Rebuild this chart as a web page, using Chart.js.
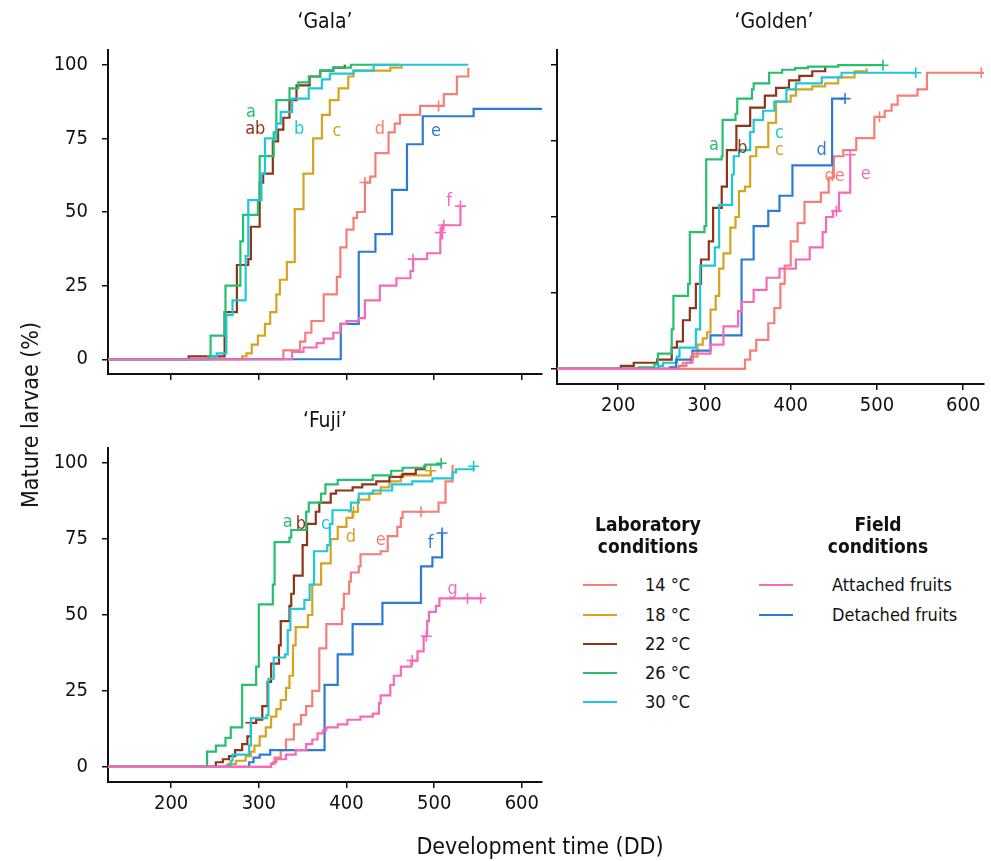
<!DOCTYPE html>
<html>
<head>
<meta charset="utf-8">
<script src="https://cdn.jsdelivr.net/npm/chart.js@4/dist/chart.umd.min.js"></script>
<style>
  html, body { margin: 0; padding: 0; background: #fff; }
  body { width: 991px; height: 861px; position: relative; overflow: hidden;
         font-family: 'DejaVu Sans Condensed', 'DejaVu Sans', sans-serif; color: #111; }
  canvas { position: absolute; }
  .txt { position: absolute; white-space: nowrap; }
  .ptitle { font-size: 21px; line-height: 24px; text-align: center; }
  .axtitle { font-size: 23px; line-height: 26px; }
  .lhead { font-size: 19px; line-height: 22px; font-weight: bold; text-align: center; width: 200px; }
  .litem { font-size: 18px; line-height: 22px; }
  .lline { position: absolute; height: 2px; width: 34px; }
</style>
</head>
<body>
<canvas id="gala" width="560" height="400" style="left:0;top:0;width:560px;height:400px"></canvas>
<canvas id="golden" width="451" height="430" style="left:540px;top:0;width:451px;height:430px"></canvas>
<canvas id="fuji" width="560" height="440" style="left:0;top:400px;width:560px;height:440px"></canvas>

<div class="txt ptitle" style="left:108px;width:434px;top:9px">‘Gala’</div>
<div class="txt ptitle" style="left:557px;width:434px;top:9px">‘Golden’</div>
<div class="txt ptitle" style="left:108px;width:434px;top:408px">‘Fuji’</div>
<div class="txt axtitle" style="left:340px;width:400px;top:833px;text-align:center">Development time (DD)</div>
<div class="txt axtitle" style="left:30px;top:415px;transform:translate(-50%,-50%) rotate(-90deg)">Mature larvae (%)</div>
<div id="legend"></div>

<script>
// ---- condition colours ----
const colors = {
  c14: '#F47F76', c18: '#D8A31F', c22: '#8E3419', c26: '#25BF6E',
  c30: '#1EC8D6', att: '#F66BB6', det: '#2C7BD5'
};

// ---- axis ticks ----
const xTickValues = [200, 300, 400, 500, 600];
const yTickValues = [0, 25, 50, 75, 100];

// ---- cumulative proportion of mature larvae: [degree-days, %] at each step ----
// 'Gala'
const gala14 = [[328,3],[347,6],[353,9],[360,13],[374,22],[389,28],[393,38],[400,44],[408,48],[412,50],[421,60],[427,62],[433,70],[448,77],[455,80],[461,83],[484,86],[511,90],[526,96],[539,99]];
const gala18 = [[281,1],[286,2],[292,5],[299,8],[307,12],[313,16],[320,22],[324,27],[332,33],[341,51],[351,63],[362,75],[372,83],[381,88],[391,92],[402,96],[408,98],[450,99],[463,100]];
const gala22 = [[220,1],[261,16],[275,32],[288,34],[291,45],[301,60],[305,63],[316,74],[322,78],[328,82],[335,88],[343,93],[358,96],[370,98],[385,99],[398,100]];
const gala26 = [[242,1],[245,8],[261,16],[262,25],[279,40],[282,49],[299,54],[301,69],[317,77],[320,88],[335,92],[345,94],[357,96],[370,98],[385,99],[405,100],[460,100]];
const gala30 = [[246,1],[252,2],[263,15],[270,20],[285,35],[288,54],[303,63],[307,75],[320,80],[325,84],[338,88.5],[357,92],[372,95],[381,97],[408,98],[431,100],[539,100]];
const galaAtt = [[338,2.5],[351,4],[366,5.5],[374,7],[385,9],[393,12],[400,13],[414,14],[421,20],[438,25],[457,27.5],[473,30],[476,34],[492,36],[507,41],[509,45.5],[530,52]];
const galaDet = [[393.5,12],[414,36.5],[433,42.5],[452,57.5],[469,73],[487,82.5],[545,85],[623,85]];
const galaCens14 = [[421,60],[505,86]];
const galaCensAtt = [[476,34],[507,43],[511,45.5],[530,52]];

// 'Golden'
const golden14 = [[347,3],[353,6],[360,9.5],[374,15],[381,20],[388,28],[393,34],[400,42],[408,48],[416,55],[435,58],[444,63],[450,70],[461,72],[476,76],[497,83],[509,85],[517,87],[524,90],[547,92],[558,97.5],[624,97.5]];
const golden18 = [[262,0.5],[270,1],[275,2],[284,4],[292,8],[298,10],[303,12],[307,19.5],[313,24],[317,33],[322,38],[330,46.5],[336,50],[340,58.5],[347,60],[353,70],[360,73],[374,81],[383,88],[400,90],[406,92],[425,93],[440,94],[455,96],[474,98],[488,99]];
const golden22 = [[203,1],[218,2],[245,3],[262,7],[268,9],[275,16],[283,20],[290,28],[296,36],[305,42],[310,53],[320,60],[326,72],[337,80],[353,86],[370,90],[383,92.5],[398,95],[410,96.5],[425,98],[440,99.5]];
const golden26 = [[224,0.5],[242,1.5],[246,5],[262,13],[264,24],[281,28],[283,45],[300,47],[302,69],[320,70],[321,82],[336,84],[338,89],[355,92],[357,94],[375,97.5],[390,98.5],[405,99],[420,99.5],[455,100],[507,100]];
const golden30 = [[246,1],[252,2],[268,4],[271,7],[290,13],[295,34],[312,40],[317,54],[332,64],[334,70],[340,72],[353,78],[357,82],[368,85],[381,88],[395,92],[406,94],[436,96],[459,97.5],[545,97.5]];
const goldenAtt = [[271,1],[279,2],[286,5],[307,8],[322,14],[339,19],[343,22],[357,26],[372,30],[387,33],[406,36],[422,40],[437,45],[441,50],[449,52],[456,58],[469,70.5]];
const goldenDet = [[260,0.5],[267,3],[286,6],[307,11],[343,36],[357,47],[374,52],[387,57],[402,67],[448,89],[463,89]];
const goldenCens14 = [[503,83],[621,97.5]];
const goldenCens18 = [[406,92]];
const goldenCens26 = [[507,100]];
const goldenCens30 = [[545,97.5]];
const goldenCensAtt = [[453,52],[469,70.5]];
const goldenCensDet = [[463,89]];

// 'Fuji'
const fuji14 = [[314,1],[318,3],[325,5.5],[331,9],[340,14],[348,17],[354,20],[361,25],[369,39],[377,47],[395,52],[397,57],[403,61],[405,64],[414,66],[416,70],[439,71],[447,76],[458,79],[462,82],[464,84],[505,87],[513,94],[521,99.5]];
const fuji18 = [[263,0.5],[265,1],[274,2],[285,3.5],[291,5],[295,7],[301,10],[308,13],[314,16.5],[320,19],[325,22],[331,26],[335,30],[339,40],[342,46],[356,50],[361,60],[371,67],[382,75],[390,79],[400,82],[407,84],[413,88],[426,90],[439,92],[449,94],[462,96],[496,97.5],[498,97.5]];
const fuji22 = [[251,1.5],[259,2.5],[266,3.5],[273,5.5],[281,7.5],[287,10],[291,14.5],[297,15.5],[304,20],[310,28],[314,34],[323,40],[325,48],[335,53],[337,57],[340,63],[350,73],[355,80],[365,84],[369,87],[382,90],[388,91],[407,92],[418,93],[434,94],[449,95.5],[464,96.5],[479,98],[489,99.5]];
const fuji26 = [[241,5],[251,7],[262,9.5],[268,13],[281,27],[297,33],[300,53.5],[316,60],[318,74],[335,75.5],[337,78],[354,84],[357,87],[371,90],[376,93],[390,94.5],[430,96],[451,97.5],[464,98.5],[490,99.5],[508,100]];
const fuji30 = [[266,0.5],[268,2],[270,4],[289,7],[291,16],[309,17],[311,29],[317,36],[330,37],[333,45],[336,52],[352,55],[358,60],[363,71],[378,73],[381,80],[384,84.5],[405,87],[414,90],[430,91],[452,93],[475,94],[498,95],[521,97],[525,98],[545,99]];
const fujiAtt = [[314,1],[316,1.5],[320,2.5],[331,4],[342,5.5],[354,7.5],[361,9],[367,11],[373,12],[377,13],[390,14],[401,15.5],[416,16.5],[430,17.5],[437,21],[439,23.5],[450,27],[454,30],[462,33],[474,35],[481,38],[488,43],[492,48],[494,51],[502,53],[506,55.5],[556,55.5]];
const fujiDet = [[289,1.5],[294,3],[301,4],[313,5.5],[375,27],[390,37],[407,47],[441,54],[485,66],[498,69],[509,77]];
const fujiCens14 = [[485,84]];
const fujiCens18 = [[408,84],[496,97.5]];
const fujiCens22 = [[291,14.5]];
const fujiCens26 = [[508,100]];
const fujiCens30 = [[545,99]];
const fujiCensAtt = [[475,35],[491,43],[538,55.5],[553,55.5]];
const fujiCensDet = [[509,77]];

// ---- significance letters: text, condition, anchor [DD, %] ----
const galaLetters = ['a','ab','b','c','d','e','f'];
const galaLetterKeys = ['c26','c22','c30','c18','c14','det','att'];
const galaLetterAt = [[291,84],[296,78],[346,78],[389,77.5],[438,78],[502,77.5],[517,53.5]];
const goldenLetters = ['a','b','c','c','d','de','e'];
const goldenLetterKeys = ['c26','c22','c30','c18','det','c14','att'];
const goldenLetterAt = [[311,73.5],[344,72.5],[387,77.5],[387,72],[436,72],[451,63.5],[487,64]];
const fujiLetters = ['a','b','c','d','e','f','g'];
const fujiLetterKeys = ['c26','c22','c30','c18','c14','det','att'];
const fujiLetterAt = [[333,80.5],[348,80],[376,80],[405,75.5],[439,74.5],[496,73.5],[521,58.5]];

// ---- legend ----
const labLabels = ['14 °C','18 °C','22 °C','26 °C','30 °C'];
const labKeys = ['c14','c18','c22','c26','c30'];
const fieldLabels = ['Attached fruits','Detached fruits'];
const fieldKeys = ['att','det'];

Chart.defaults.font.family = "'DejaVu Sans Condensed', 'DejaVu Sans', sans-serif";
Chart.defaults.color = '#111';

const toPts = arr => arr.map(([x, y]) => ({ x, y }));

const lettersPlugin = {
  id: 'groupLetters',
  afterDatasetsDraw(chart, args, opts) {
    const { ctx } = chart;
    const xs = chart.scales.x, ys = chart.scales.y;
    ctx.save();
    ctx.font = "18px 'DejaVu Sans Condensed', 'DejaVu Sans', sans-serif";
    ctx.textAlign = 'center';
    ctx.textBaseline = 'middle';
    opts.texts.forEach((t, i) => {
      ctx.fillStyle = colors[opts.keys[i]];
      ctx.fillText(t, xs.getPixelForValue(opts.at[i][0]), ys.getPixelForValue(opts.at[i][1]));
    });
    ctx.restore();
  }
};

function buildPanel(id, p) {
  const datasets = [];
  // drawing order: attached on top, then detached, then the laboratory temperatures
  const orderOf = { att: 0, det: 1, c30: 2, c26: 3, c22: 4, c18: 5, c14: 6 };
  p.series.forEach(s => {
    const pts = [{ x: p.xMin, y: 0 }].concat(toPts(s.data));
    datasets.push({
      data: pts, borderColor: colors[s.key], borderWidth: 2.2,
      stepped: true, pointRadius: 0, fill: false, order: orderOf[s.key] * 2 + 1
    });
    if (s.cens && s.cens.length) {
      datasets.push({
        data: toPts(s.cens), showLine: false, pointStyle: 'cross', pointRadius: 5.5,
        pointBorderWidth: 1.6, pointBorderColor: colors[s.key], pointBackgroundColor: colors[s.key],
        borderColor: colors[s.key], order: orderOf[s.key] * 2
      });
    }
  });

  const tickGrid = { drawOnChartArea: false, drawTicks: true, tickLength: 6, color: '#111', lineWidth: 1.5 };
  const border = { display: true, color: '#111', width: 2 };

  new Chart(document.getElementById(id), {
    type: 'line',
    data: { datasets },
    options: {
      responsive: false, animation: false, events: [],
      layout: { padding: p.padding },
      plugins: { legend: { display: false }, tooltip: { enabled: false }, groupLetters: p.letters },
      scales: {
        x: {
          type: 'linear', min: p.xMin, max: p.xMax,
          afterBuildTicks: s => { s.ticks = xTickValues.map(v => ({ value: v })); },
          afterFit: s => { s.height = p.xHeight; },
          grid: tickGrid, border,
          ticks: { display: p.xLabels, font: { size: 20 }, color: '#111', padding: 4, maxRotation: 0 }
        },
        y: {
          type: 'linear', min: -5, max: 105,
          afterBuildTicks: s => { s.ticks = yTickValues.map(v => ({ value: v })); },
          afterFit: s => { s.width = p.yWidth; },
          grid: tickGrid, border,
          ticks: { display: p.yLabels, font: { size: 20 }, color: '#111', padding: 14 }
        }
      }
    },
    plugins: [lettersPlugin]
  });
}

buildPanel('gala', {
  xMin: 128, xMax: 623, xLabels: false, yLabels: true,
  padding: { top: 50, right: 18, left: 0, bottom: 0 }, yWidth: 108, xHeight: 16,
  series: [
    { key: 'c14', data: gala14, cens: galaCens14 },
    { key: 'c18', data: gala18 },
    { key: 'c22', data: gala22 },
    { key: 'c26', data: gala26 },
    { key: 'c30', data: gala30 },
    { key: 'att', data: galaAtt, cens: galaCensAtt },
    { key: 'det', data: galaDet }
  ],
  letters: { texts: galaLetters, keys: galaLetterKeys, at: galaLetterAt }
});

buildPanel('golden', {
  xMin: 129, xMax: 624, xLabels: true, yLabels: false,
  padding: { top: 50, right: 0, left: 0, bottom: 0 }, yWidth: 17, xHeight: 46,
  series: [
    { key: 'c14', data: golden14, cens: goldenCens14 },
    { key: 'c18', data: golden18, cens: goldenCens18 },
    { key: 'c22', data: golden22 },
    { key: 'c26', data: golden26, cens: goldenCens26 },
    { key: 'c30', data: golden30, cens: goldenCens30 },
    { key: 'att', data: goldenAtt, cens: goldenCensAtt },
    { key: 'det', data: goldenDet, cens: goldenCensDet }
  ],
  letters: { texts: goldenLetters, keys: goldenLetterKeys, at: goldenLetterAt }
});

buildPanel('fuji', {
  xMin: 128, xMax: 623, xLabels: true, yLabels: true,
  padding: { top: 48, right: 18, left: 0, bottom: 0 }, yWidth: 108, xHeight: 58,
  series: [
    { key: 'c14', data: fuji14, cens: fujiCens14 },
    { key: 'c18', data: fuji18, cens: fujiCens18 },
    { key: 'c22', data: fuji22, cens: fujiCens22 },
    { key: 'c26', data: fuji26, cens: fujiCens26 },
    { key: 'c30', data: fuji30, cens: fujiCens30 },
    { key: 'att', data: fujiAtt, cens: fujiCensAtt },
    { key: 'det', data: fujiDet, cens: fujiCensDet }
  ],
  letters: { texts: fujiLetters, keys: fujiLetterKeys, at: fujiLetterAt }
});

// ---- legend (HTML) ----
(function () {
  const box = document.getElementById('legend');
  const add = (html, cls, style) => {
    const d = document.createElement('div');
    d.className = cls; d.innerHTML = html; d.setAttribute('style', style);
    box.appendChild(d);
  };
  add('Laboratory<br>conditions', 'txt lhead', 'left:548px;top:513px');
  add('Field<br>conditions', 'txt lhead', 'left:778px;top:513px');
  const rowY = [585, 615, 644, 673, 702];
  labLabels.forEach((t, i) => {
    add('', 'lline', `left:583px;top:${rowY[i] - 1}px;background:${colors[labKeys[i]]}`);
    add(t, 'txt litem', `left:645px;top:${rowY[i] - 11}px`);
  });
  fieldLabels.forEach((t, i) => {
    add('', 'lline', `left:759px;top:${rowY[i] - 1}px;background:${colors[fieldKeys[i]]}`);
    add(t, 'txt litem', `left:832px;top:${rowY[i] - 11}px`);
  });
})();
</script>
</body>
</html>
